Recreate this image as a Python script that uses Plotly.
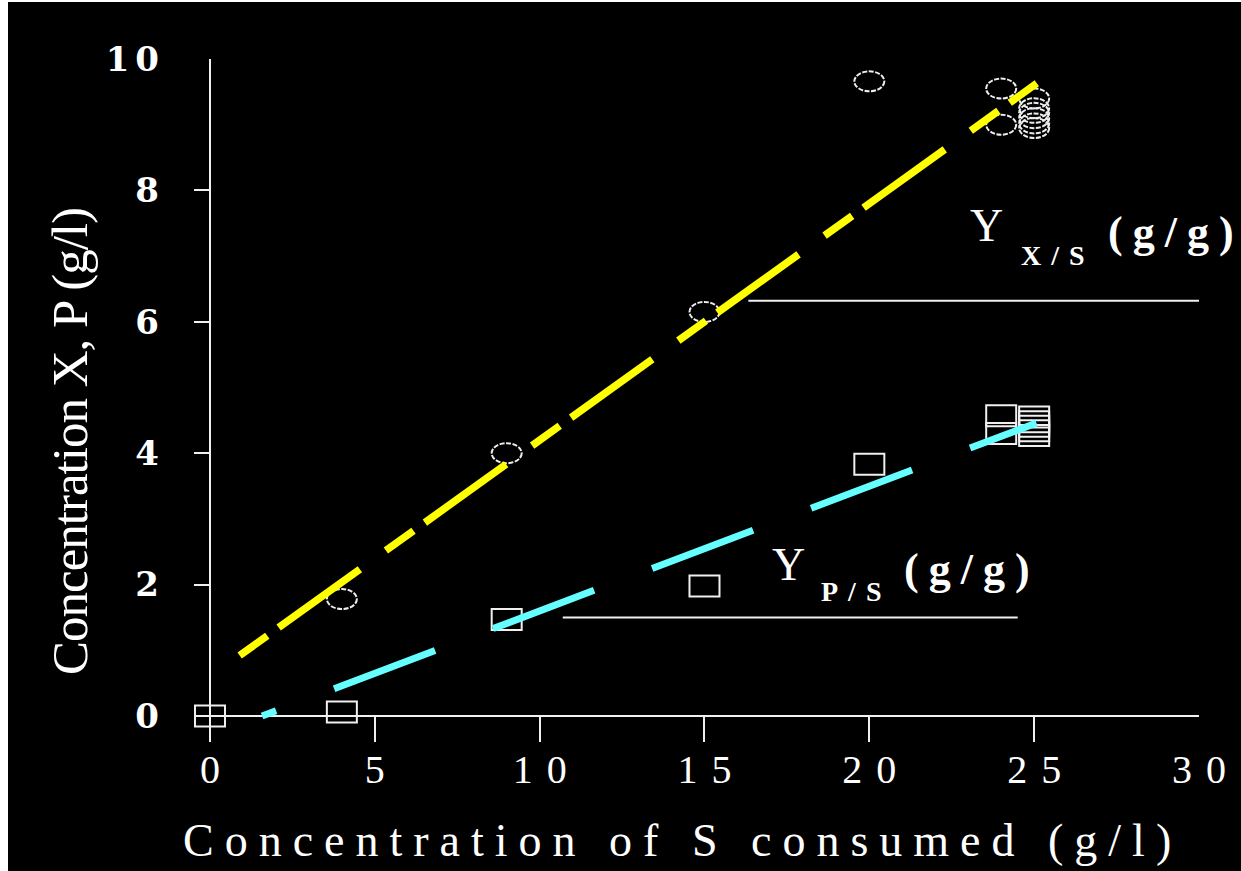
import plotly.graph_objects as go

# ---------------- data ----------------
S_X = [4, 9, 15, 20, 24, 24, 25, 25, 25, 25, 25, 25]
X_conc = [1.78, 4.0, 6.15, 9.66, 9.55, 9.0, 9.4, 9.25, 9.18, 9.1, 9.02, 8.95]

S_P = [0, 4, 9, 15, 20, 24, 24, 25, 25, 25, 25, 25]
P_conc = [0.0, 0.06, 1.47, 1.98, 3.83, 4.57, 4.3, 4.55, 4.48, 4.41, 4.34, 4.27]

S_Xfit = [0.9, 25.08]
X_fit = [0.92, 9.63]
S_Pfit = [1.58, 25.07]
P_fit = [0.0, 4.46]

x_ticks = [0, 5, 10, 15, 20, 25, 30]
y_ticks = [0, 2, 4, 6, 8, 10]

yield_X_line_S = [16.33, 30.15]
yield_X_line_level = 6.32
yield_P_line_S = [10.7, 24.5]
yield_P_line_level = 1.50

# ---------------- layout geometry ----------------
W, H = 1241, 871
L, R, T, B = 194, 1199, 59, 742          # plot area in pixels
x_range = [-0.485, 30]
y_range = [-0.396, 10]


def px(xp):
    return (xp - L) / (R - L)


def py(yp):
    return (B - yp) / (B - T)


def spaced(s, sp):
    """letter-spacing applied between characters (not after the last)."""
    if len(s) < 2:
        return s
    return '<span style="letter-spacing:%dpx">%s</span>%s' % (sp, s[:-1], s[-1])


fig = go.Figure()

# fitted lines
fig.add_trace(go.Scatter(
    x=S_Xfit, y=X_fit, mode="lines",
    line=dict(color="#ffff00", width=7.5, dash="34px,14px,100px,32px"),
    showlegend=False, hoverinfo="skip"))
fig.add_trace(go.Scatter(
    x=S_Pfit, y=P_fit, mode="lines",
    line=dict(color="#66ffff", width=7,
              dash="15px,62px,108px,62px,108px,62px,108px,62px,108px,62px,108px,62px"),
    showlegend=False, hoverinfo="skip"))

shapes = []
# white border strips of the original picture
shapes.append(dict(type="rect", xref="paper", yref="paper",
                   x0=px(0), x1=px(8), y0=py(H), y1=py(0),
                   fillcolor="white", line=dict(width=0), layer="above"))
shapes.append(dict(type="rect", xref="paper", yref="paper",
                   x0=px(0), x1=px(W), y0=py(2), y1=py(0),
                   fillcolor="white", line=dict(width=0), layer="above"))

# X markers: open ellipses anchored at data points
for s, v in zip(S_X, X_conc):
    shapes.append(dict(type="circle", xref="x", yref="y",
                       xsizemode="pixel", ysizemode="pixel",
                       xanchor=s, yanchor=v, x0=-15, x1=15, y0=-10, y1=10,
                       line=dict(color="#eeeeee", width=2, dash="5px,1.5px"),
                       layer="below"))
# P markers: open rectangles anchored at data points
for s, v in zip(S_P, P_conc):
    shapes.append(dict(type="rect", xref="x", yref="y",
                       xsizemode="pixel", ysizemode="pixel",
                       xanchor=s, yanchor=v, x0=-15, x1=15, y0=-10.5, y1=10.5,
                       line=dict(color="#f0f0f0", width=2),
                       layer="below"))

# yield reference lines
shapes.append(dict(type="line", xref="x", yref="y",
                   x0=yield_X_line_S[0], x1=yield_X_line_S[1],
                   y0=yield_X_line_level, y1=yield_X_line_level,
                   line=dict(color="#f0f0f0", width=2)))
shapes.append(dict(type="line", xref="x", yref="y",
                   x0=yield_P_line_S[0], x1=yield_P_line_S[1],
                   y0=yield_P_line_level, y1=yield_P_line_level,
                   line=dict(color="#f0f0f0", width=2)))

serif = "Liberation Serif, Times New Roman, serif"
ann = []
# Y_X/S (g/g)
ann.append(dict(xref="paper", yref="paper", x=px(968), y=py(226), text="Y",
                showarrow=False, xanchor="left", yanchor="middle",
                font=dict(family=serif, size=46, color="white")))
ann.append(dict(xref="paper", yref="paper", x=px(1019), y=py(255),
                text="<b>%s</b>" % spaced("X/S", 10),
                showarrow=False, xanchor="left", yanchor="middle",
                font=dict(family=serif, size=28, color="white")))
ann.append(dict(xref="paper", yref="paper", x=px(1106), y=py(232),
                text="<b>%s</b>" % spaced("(g/g)", 10),
                showarrow=False, xanchor="left", yanchor="middle",
                font=dict(family=serif, size=44, color="white")))
# Y_P/S (g/g)
ann.append(dict(xref="paper", yref="paper", x=px(770), y=py(564), text="Y",
                showarrow=False, xanchor="left", yanchor="middle",
                font=dict(family=serif, size=46, color="white")))
ann.append(dict(xref="paper", yref="paper", x=px(819), y=py(591),
                text="<b>%s</b>" % spaced("P/S", 10),
                showarrow=False, xanchor="left", yanchor="middle",
                font=dict(family=serif, size=28, color="white")))
ann.append(dict(xref="paper", yref="paper", x=px(902), y=py(569),
                text="<b>%s</b>" % spaced("(g/g)", 10),
                showarrow=False, xanchor="left", yanchor="middle",
                font=dict(family=serif, size=44, color="white")))
# axis titles
ann.append(dict(xref="paper", yref="paper", x=px(677), y=py(840),
                text=spaced("Concentration of S consumed (g/l)", 11),
                showarrow=False, xanchor="center", yanchor="middle",
                font=dict(family=serif, size=46, color="white")))
ann.append(dict(xref="paper", yref="paper", x=px(70), y=py(442),
                text='<span style="letter-spacing:-1px">Concentration X, P (g/l)</span>',
                textangle=-90, showarrow=False, xanchor="center", yanchor="middle",
                font=dict(family=serif, size=51, color="white")))

fig.update_layout(
    width=W, height=H,
    margin=dict(l=L, r=W - R, t=T, b=H - B, pad=0),
    paper_bgcolor="black", plot_bgcolor="black",
    showlegend=False,
    shapes=shapes, annotations=ann,
    xaxis=dict(range=x_range, showgrid=False, showline=False,
               zeroline=True, zerolinecolor="#f0f0f0", zerolinewidth=2,
               ticks="inside", ticklen=26, tickwidth=2, tickcolor="#f0f0f0",
               tickvals=x_ticks,
               ticktext=[spaced(str(v), 14) for v in x_ticks],
               ticklabelstandoff=0,
               tickfont=dict(family=serif, size=40, color="white")),
    yaxis=dict(range=y_range, showgrid=False, showline=False,
               zeroline=True, zerolinecolor="#f0f0f0", zerolinewidth=2,
               ticks="inside", ticklen=16, tickwidth=2, tickcolor="#f0f0f0",
               tickvals=y_ticks,
               ticktext=["<b>%s</b>" % spaced(str(v), 6) for v in y_ticks],
               ticklabelstandoff=34,
               tickfont=dict(family="DejaVu Serif, serif", size=34, color="white")),
)

fig.write_html("out.html", config={"displayModeBar": False},
               post_script="document.body.style.margin='0px';")
